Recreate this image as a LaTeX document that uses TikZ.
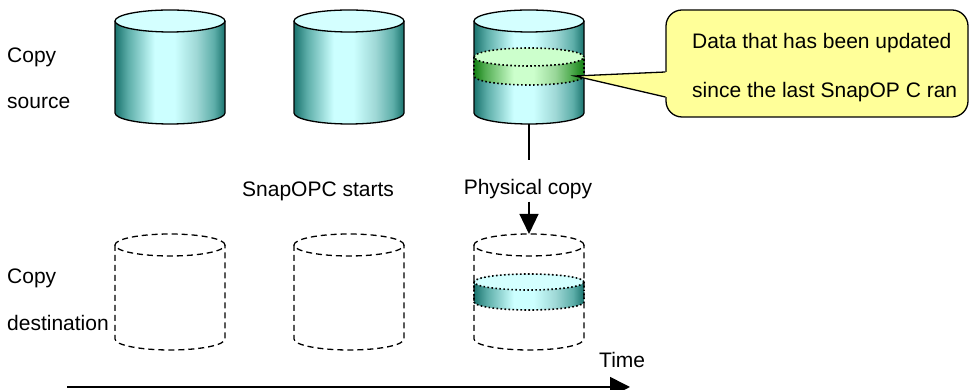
\documentclass[tikz,border=0pt]{standalone}
\usepackage{fontspec}
\setmainfont{Liberation Sans}
\usetikzlibrary{arrows.meta,calc}
\definecolor{cdark}{HTML}{1A736E}
\definecolor{cmid}{HTML}{5DAEA9}
\definecolor{cmidl}{HTML}{9FD8D6}
\definecolor{clight}{HTML}{CCFFFF}
\definecolor{ctop}{HTML}{D4FFFF}
\definecolor{gdark}{HTML}{137F13}
\definecolor{gmid}{HTML}{52AD52}
\definecolor{gmidl}{HTML}{98D698}
\definecolor{glight}{HTML}{CCFFCC}
\definecolor{callfill}{HTML}{FFFF99}
\pgfdeclarehorizontalshading{cylshade}{100bp}{color(0bp)=(cdark); color(25bp)=(cdark); color(31bp)=(cmid); color(43bp)=(clight); color(52bp)=(clight); color(62bp)=(cmidl); color(70bp)=(cmid); color(75bp)=(cdark); color(100bp)=(cdark)}
\pgfdeclarehorizontalshading{grnshade}{100bp}{color(0bp)=(gdark); color(25bp)=(gdark); color(30bp)=(gmid); color(43bp)=(glight); color(52bp)=(glight); color(62bp)=(gmidl); color(69bp)=(gmid); color(75bp)=(gdark); color(100bp)=(gdark)}
\tikzset{
  lbl/.style={font=\fontsize{21}{25}\selectfont, inner sep=0pt, anchor=base west},
  cylline/.style={draw=black, line width=1.3pt},
  dashline/.style={draw=black, line width=1.3pt, dash pattern=on 6pt off 4pt},
  dotline/.style={draw=black, line width=1.6pt, dash pattern=on 1.6pt off 2.4pt},
  conn/.style={line width=1.3pt},
  callbox/.style={draw=black, line width=1.3pt, fill=callfill, rounded corners=16pt,
    minimum width=302pt, minimum height=107pt, inner sep=0pt},
}
\newcommand\srcCyl[3]{%
  \shade[shading=cylshade] (#1-55,#2) -- (#1-55,#3) arc[start angle=180,end angle=360,x radius=55,y radius=11] -- (#1+55,#2) arc[start angle=0,end angle=180,x radius=55,y radius=11] -- cycle;
  \draw[cylline] (#1-55,#2) -- (#1-55,#3) arc[start angle=180,end angle=360,x radius=55,y radius=11] -- (#1+55,#2);
  \filldraw[cylline, fill=ctop] (#1,#2) ellipse[x radius=55,y radius=11];
}
\newcommand\dstCyl[3]{%
  \draw[dashline] (#1,#2) ellipse[x radius=55,y radius=11];
  \draw[dashline] (#1-55,#2) -- (#1-55,#3) arc[start angle=180,end angle=360,x radius=55,y radius=11] -- (#1+55,#2);
}
\newcommand\bandCyl[6]{%
  \shade[shading=#4] (#1-55,#2) -- (#1-55,#3) arc[start angle=180,end angle=360,x radius=55,y radius=#6] -- (#1+55,#2) arc[start angle=0,end angle=180,x radius=55,y radius=#6] -- cycle;
  \fill[#5] (#1,#2) ellipse[x radius=55,y radius=#6];
  \draw[dotline] (#1,#2) ellipse[x radius=55,y radius=#6];
  \draw[dotline] (#1-55,#2) -- (#1-55,#3) arc[start angle=180,end angle=360,x radius=55,y radius=#6] -- (#1+55,#2);
}
\begin{document}
\begin{tikzpicture}[x=1pt,y=1pt]
\useasboundingbox (0,0) rectangle (970,390);
\fill[white] (0,0) rectangle (970,390);

% source volumes
\srcCyl{170}{369}{277}
\srcCyl{349}{369}{277}
\srcCyl{529}{369}{277}
\bandCyl{529}{333}{314}{grnshade}{glight}{9}

% destination volumes
\bandCyl{529}{108}{88}{cylshade}{ctop}{8}
\dstCyl{170}{145}{51}
\dstCyl{349}{145}{51}
\dstCyl{529}{145}{51}

% labels
\node[lbl] (cs1) at (7,327) {Copy};
\node[lbl] (cs2) at (7,281) {source};
\node[lbl] (cd1) at (7,106) {Copy};
\node[lbl] (cd2) at (7,59) {destination};
\node[lbl] (snap) at (242,193) {SnapOPC starts};
\node[lbl] (time) at (599,22) {Time};

% physical copy
\coordinate (s3b) at (529,266);
\coordinate (s3gap) at (529,230);
\coordinate (d3t) at (529,156);
\node[font=\fontsize{21}{25}\selectfont, inner sep=0pt, anchor=base] (phys) at (528,195) {Physical copy};
\draw[conn] (s3b) -- (s3gap);
\draw[conn, -{Triangle[length=20pt,width=19pt]}] ([yshift=-2pt]phys.south -| d3t) -- (d3t);

% callout
\node[callbox] (callout) at (817,326.5) {};
\coordinate (tip) at (575,314);
\coordinate (pa) at ($(callout.west)+(0,-8.5)$);
\coordinate (pb) at ($(callout.west)+(0,-33.5)$);
\fill[callfill] (tip) -- ($(pa)+(1.6,0)$) -- ($(pb)+(1.6,0)$) -- cycle;
\draw[conn, line join=miter] (pa) -- (tip) -- (pb);
\node[lbl] (c1) at (692,341) {Data that has been updated};
\node[lbl] (c2) at (692,292) {since the last SnapOP C ran};

% time axis
\coordinate (t0) at (67,3);
\coordinate (t1) at (630,3);
\draw[line width=1.5pt, -{Triangle[length=20pt,width=20pt]}] (t0) -- (t1);
\end{tikzpicture}
\end{document}
